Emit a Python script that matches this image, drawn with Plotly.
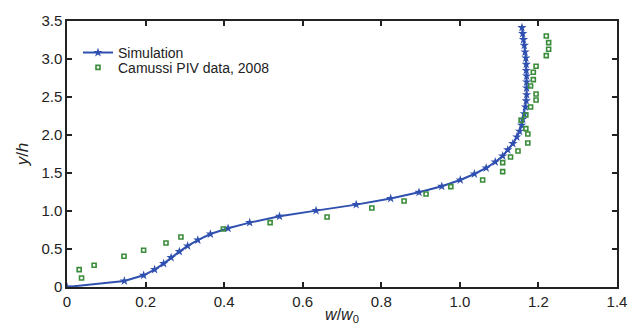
import plotly.graph_objects as go

# Simulation profile
sim_x = [0, 0.146, 0.195, 0.223, 0.246, 0.265, 0.286, 0.307, 0.333, 0.365, 0.41, 0.465,
         0.541, 0.634, 0.736, 0.824, 0.896, 0.954, 1.001, 1.037, 1.067, 1.09, 1.109, 1.122,
         1.135, 1.145, 1.152, 1.157, 1.16, 1.164, 1.167, 1.169, 1.17, 1.17, 1.17, 1.17,
         1.169, 1.169, 1.168, 1.166, 1.164, 1.162, 1.16, 1.158]
sim_y = [0, 0.08, 0.154, 0.229, 0.308, 0.387, 0.466, 0.54, 0.618, 0.697, 0.772, 0.847,
         0.93, 1.005, 1.084, 1.165, 1.246, 1.325, 1.408, 1.487, 1.566, 1.645, 1.724, 1.805,
         1.887, 1.974, 2.049, 2.128, 2.207, 2.28, 2.368, 2.45, 2.53, 2.618, 2.697, 2.776,
         2.85, 2.93, 3.013, 3.092, 3.18, 3.255, 3.334, 3.413]

# Camussi PIV data, 2008
piv_x = [0.037, 0.031, 0.069, 0.145, 0.195, 0.252, 0.29, 0.398, 0.517, 0.662, 0.776,
         0.858, 0.914, 0.977, 1.058, 1.109, 1.109, 1.129, 1.148, 1.173, 1.173, 1.168,
         1.156, 1.168, 1.18, 1.194, 1.194, 1.18, 1.187, 1.187, 1.194, 1.22, 1.226,
         1.226, 1.22]
piv_y = [0.118, 0.229, 0.286, 0.404, 0.483, 0.579, 0.658, 0.763, 0.847, 0.921, 1.04,
         1.132, 1.224, 1.321, 1.408, 1.518, 1.637, 1.711, 1.79, 1.895, 2.013, 2.084,
         2.193, 2.263, 2.368, 2.46, 2.539, 2.645, 2.729, 2.825, 2.904, 3.045, 3.128,
         3.216, 3.303]

x_ticks = [0, 0.2, 0.4, 0.6, 0.8, 1.0, 1.2, 1.4]
x_labels = ["0", "0.2", "0.4", "0.6", "0.8", "1.0", "1.2", "1.4"]
y_ticks = [0, 0.5, 1.0, 1.5, 2.0, 2.5, 3.0, 3.5]
y_labels = ["0", "0.5", "1.0", "1.5", "2.0", "2.5", "3.0", "3.5"]

blue = "#3050b0"
green = "#3a8c3a"

fig = go.Figure()
fig.add_trace(go.Scatter(
    x=sim_x, y=sim_y, mode="lines+markers", name="Simulation",
    line=dict(color=blue, width=2),
    marker=dict(symbol="star", size=7, color=blue),
    legend="legend",
))
fig.add_trace(go.Scatter(
    x=piv_x, y=piv_y, mode="markers", name="Camussi PIV data, 2008",
    marker=dict(symbol="square-open", size=4, color=green, line=dict(width=1.6, color=green)),
    legend="legend2",
))

font_family = "Liberation Sans, Arial, sans-serif"
axis_common = dict(
    showline=True, linecolor="#222", linewidth=1.5, mirror="ticks",
    ticks="inside", ticklen=5, tickwidth=1.5, tickcolor="#222",
    showgrid=False, zeroline=False, automargin=False,
    tickfont=dict(family=font_family, size=15, color="#222"),
)
legend_common = dict(xanchor="left", yanchor="middle", bgcolor="rgba(0,0,0,0)",
                     font=dict(size=14, family=font_family, color="#222"),
                     itemwidth=30)

# page body has an 8px default margin, so the figure is sized to fit the window
fig.update_layout(
    width=633, height=328,
    margin=dict(l=59, r=24, t=13, b=49),
    paper_bgcolor="white", plot_bgcolor="white",
    font=dict(family=font_family, color="#222"),
    showlegend=True,
    legend=dict(x=0.02, y=0.88, **legend_common),
    legend2=dict(x=0.02, y=0.824, **legend_common),
    xaxis=dict(range=[0, 1.4], tickvals=x_ticks, ticktext=x_labels,
               title=dict(text="<i>w</i>/<i>w</i><sub>0</sub>", standoff=0,
                          font=dict(size=16, family=font_family)),
               **axis_common),
    yaxis=dict(range=[0, 3.5], tickvals=y_ticks, ticktext=y_labels,
               title=dict(text="<i>y</i>/<i>h</i>", standoff=8,
                          font=dict(size=17, family=font_family)),
               **axis_common),
)

fig.write_html("out.html")
